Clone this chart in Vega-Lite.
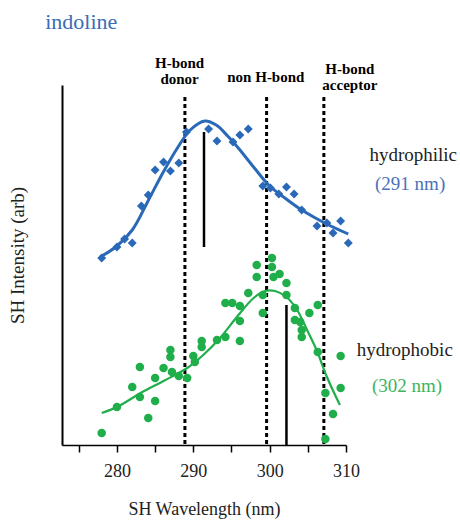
{
  "$schema": "https://vega.github.io/schema/vega-lite/v6.json",
  "width": 284,
  "height": 360,
  "autosize": {"type": "none"},
  "padding": {"left": 62, "top": 85, "right": 114, "bottom": 75},
  "background": "white",
  "config": {"view": {"stroke": null}, "font": "Liberation Serif"},
  "datasets": {
    "blue": [
      {"nm": 278.0, "v": 187}, {"nm": 280.0, "v": 198}, {"nm": 281.0, "v": 206}, {"nm": 282.0, "v": 202},
      {"nm": 283.2, "v": 239}, {"nm": 284.1, "v": 250}, {"nm": 285.0, "v": 275}, {"nm": 286.1, "v": 283},
      {"nm": 287.0, "v": 274}, {"nm": 288.1, "v": 282}, {"nm": 289.1, "v": 313}, {"nm": 292.0, "v": 316},
      {"nm": 293.1, "v": 304}, {"nm": 295.2, "v": 303}, {"nm": 296.1, "v": 310}, {"nm": 297.2, "v": 316},
      {"nm": 299.1, "v": 259}, {"nm": 300.1, "v": 257}, {"nm": 301.2, "v": 251}, {"nm": 302.2, "v": 258},
      {"nm": 303.2, "v": 251}, {"nm": 304.2, "v": 235}, {"nm": 306.2, "v": 219}, {"nm": 307.5, "v": 222},
      {"nm": 308.3, "v": 212}, {"nm": 309.3, "v": 224}, {"nm": 310.3, "v": 202}
    ],
    "blueFit": [
      {"nm": 277.8, "v": 188}, {"nm": 280.0, "v": 199}, {"nm": 282.0, "v": 215}, {"nm": 284.0, "v": 243},
      {"nm": 286.0, "v": 272}, {"nm": 288.0, "v": 298}, {"nm": 289.6, "v": 315}, {"nm": 291.5, "v": 324},
      {"nm": 293.0, "v": 320}, {"nm": 294.5, "v": 309}, {"nm": 296.0, "v": 296}, {"nm": 298.0, "v": 277},
      {"nm": 300.0, "v": 259}, {"nm": 302.0, "v": 247}, {"nm": 304.0, "v": 236}, {"nm": 306.0, "v": 227},
      {"nm": 308.0, "v": 219}, {"nm": 310.3, "v": 211}
    ],
    "green": [
      {"nm": 278.0, "v": 12}, {"nm": 280.0, "v": 38}, {"nm": 282.0, "v": 58}, {"nm": 283.0, "v": 78},
      {"nm": 283.0, "v": 48}, {"nm": 284.1, "v": 27}, {"nm": 285.0, "v": 67}, {"nm": 285.0, "v": 44},
      {"nm": 286.1, "v": 77}, {"nm": 287.0, "v": 95}, {"nm": 287.0, "v": 88}, {"nm": 287.2, "v": 73},
      {"nm": 288.1, "v": 69}, {"nm": 289.2, "v": 67}, {"nm": 290.0, "v": 89}, {"nm": 290.2, "v": 83},
      {"nm": 291.1, "v": 104}, {"nm": 291.1, "v": 98}, {"nm": 293.1, "v": 105}, {"nm": 294.2, "v": 108},
      {"nm": 294.2, "v": 142}, {"nm": 295.1, "v": 142}, {"nm": 296.1, "v": 124}, {"nm": 296.1, "v": 104},
      {"nm": 296.1, "v": 139}, {"nm": 297.2, "v": 152}, {"nm": 298.3, "v": 180}, {"nm": 298.3, "v": 168},
      {"nm": 299.1, "v": 150}, {"nm": 299.1, "v": 132}, {"nm": 300.3, "v": 187}, {"nm": 300.3, "v": 178},
      {"nm": 300.5, "v": 168}, {"nm": 301.3, "v": 171}, {"nm": 302.2, "v": 162}, {"nm": 302.2, "v": 150},
      {"nm": 303.3, "v": 137}, {"nm": 303.3, "v": 125}, {"nm": 304.0, "v": 123}, {"nm": 304.2, "v": 115},
      {"nm": 304.2, "v": 108}, {"nm": 305.2, "v": 132}, {"nm": 306.3, "v": 140}, {"nm": 306.3, "v": 93},
      {"nm": 307.3, "v": 52}, {"nm": 307.3, "v": 6}, {"nm": 308.3, "v": 31}, {"nm": 309.3, "v": 89},
      {"nm": 309.3, "v": 57}
    ],
    "greenFit": [
      {"nm": 278.0, "v": 32}, {"nm": 280.0, "v": 38}, {"nm": 283.1, "v": 52}, {"nm": 286.1, "v": 64},
      {"nm": 289.2, "v": 77}, {"nm": 291.3, "v": 90}, {"nm": 293.5, "v": 107}, {"nm": 295.7, "v": 128},
      {"nm": 297.9, "v": 147}, {"nm": 299.4, "v": 154}, {"nm": 300.7, "v": 154}, {"nm": 302.2, "v": 148},
      {"nm": 303.6, "v": 135}, {"nm": 304.9, "v": 115}, {"nm": 306.2, "v": 94}, {"nm": 307.5, "v": 68},
      {"nm": 309.2, "v": 40}
    ],
    "guides": [
      {"nm": 288.9, "v": 348, "v2": 0},
      {"nm": 299.6, "v": 348, "v2": 0},
      {"nm": 307.1, "v": 348, "v2": 0}
    ],
    "peaks": [
      {"nm": 291.4, "v": 313, "v2": 198},
      {"nm": 302.2, "v": 140, "v2": 0}
    ],
    "labels": [
      {"kind": "title", "label": "indoline", "nm": 270.6, "v": 423},
      {"kind": "band", "label": "H-bond\ndonor", "nm": 288.2, "v": 382},
      {"kind": "band", "label": "non H-bond", "nm": 299.5, "v": 368},
      {"kind": "band", "label": "H-bond\nacceptor", "nm": 310.5, "v": 376},
      {"kind": "name", "label": "hydrophilic", "nm": 318.8, "v": 290},
      {"kind": "name", "label": "hydrophobic", "nm": 317.7, "v": 95},
      {"kind": "blue", "label": "(291 nm)", "nm": 318.4, "v": 261},
      {"kind": "green", "label": "(302 nm)", "nm": 318.0, "v": 59}
    ]
  },
  "layer": [
    {
      "data": {"name": "guides"},
      "mark": {"type": "rule", "color": "black", "strokeWidth": 3, "strokeDash": [4, 3]},
      "encoding": {
        "x": {
          "field": "nm", "type": "quantitative",
          "scale": {"domain": [272.8, 310], "nice": false, "zero": false},
          "axis": {
            "title": "SH Wavelength (nm)",
            "values": [275, 277.5, 280, 282.5, 285, 287.5, 290, 292.5, 295, 297.5, 300, 302.5, 305, 307.5, 310],
            "labelExpr": "datum.value % 10 === 0 ? datum.label : ''",
            "grid": false,
            "domainColor": "black", "domainWidth": 1.5,
            "tickColor": "black", "tickWidth": 1.5, "tickSize": 7,
            "labelFont": "Liberation Serif", "labelFontSize": 18, "labelColor": "#222222",
            "labelPadding": 10, "labelFlush": false,
            "titleFont": "Liberation Serif", "titleFontSize": 18, "titleFontWeight": "normal",
            "titleColor": "#222222", "titlePadding": 20
          }
        },
        "y": {
          "field": "v", "type": "quantitative",
          "scale": {"domain": [0, 360], "nice": false, "zero": false},
          "axis": {
            "title": "SH Intensity (arb)",
            "ticks": false, "labels": false, "grid": false,
            "domainColor": "black", "domainWidth": 2,
            "titleFont": "Liberation Serif", "titleFontSize": 19, "titleFontWeight": "normal",
            "titleColor": "#222222", "titlePadding": 35, "titleY": 170
          }
        },
        "y2": {"field": "v2"}
      }
    },
    {
      "data": {"name": "peaks"},
      "mark": {"type": "rule", "color": "black", "strokeWidth": 2.5},
      "encoding": {
        "x": {"field": "nm", "type": "quantitative"},
        "y": {"field": "v", "type": "quantitative"},
        "y2": {"field": "v2"}
      }
    },
    {
      "data": {"name": "blueFit"},
      "mark": {"type": "line", "color": "#2a69b8", "strokeWidth": 3, "interpolate": "catmull-rom"},
      "encoding": {
        "x": {"field": "nm", "type": "quantitative"},
        "y": {"field": "v", "type": "quantitative"}
      }
    },
    {
      "data": {"name": "blue"},
      "mark": {"type": "point", "shape": "diamond", "filled": true, "size": 80, "color": "#2a69b8", "opacity": 1},
      "encoding": {
        "x": {"field": "nm", "type": "quantitative"},
        "y": {"field": "v", "type": "quantitative"}
      }
    },
    {
      "data": {"name": "greenFit"},
      "mark": {"type": "line", "color": "#1fae4a", "strokeWidth": 2.2, "interpolate": "catmull-rom"},
      "encoding": {
        "x": {"field": "nm", "type": "quantitative"},
        "y": {"field": "v", "type": "quantitative"}
      }
    },
    {
      "data": {"name": "green"},
      "mark": {"type": "circle", "size": 72, "color": "#1fae4a", "opacity": 1},
      "encoding": {
        "x": {"field": "nm", "type": "quantitative"},
        "y": {"field": "v", "type": "quantitative"}
      }
    },
    {
      "data": {"name": "labels"},
      "transform": [{"filter": "datum.kind === 'title'"}],
      "mark": {"type": "text", "align": "left", "baseline": "middle", "font": "Liberation Serif", "fontSize": 22, "color": "#3a6db4"},
      "encoding": {
        "x": {"field": "nm", "type": "quantitative"},
        "y": {"field": "v", "type": "quantitative"},
        "text": {"field": "label"}
      }
    },
    {
      "data": {"name": "labels"},
      "transform": [{"filter": "datum.kind === 'band'"}],
      "mark": {"type": "text", "align": "center", "baseline": "middle", "font": "Liberation Serif", "fontSize": 15, "fontWeight": "bold", "color": "black", "lineBreak": "\n", "lineHeight": 16},
      "encoding": {
        "x": {"field": "nm", "type": "quantitative"},
        "y": {"field": "v", "type": "quantitative"},
        "text": {"field": "label"}
      }
    },
    {
      "data": {"name": "labels"},
      "transform": [{"filter": "datum.kind === 'name'"}],
      "mark": {"type": "text", "align": "center", "baseline": "middle", "font": "Liberation Serif", "fontSize": 19, "color": "#222222"},
      "encoding": {
        "x": {"field": "nm", "type": "quantitative"},
        "y": {"field": "v", "type": "quantitative"},
        "text": {"field": "label"}
      }
    },
    {
      "data": {"name": "labels"},
      "transform": [{"filter": "datum.kind === 'blue'"}],
      "mark": {"type": "text", "align": "center", "baseline": "middle", "font": "Liberation Serif", "fontSize": 19, "color": "#4a72b8"},
      "encoding": {
        "x": {"field": "nm", "type": "quantitative"},
        "y": {"field": "v", "type": "quantitative"},
        "text": {"field": "label"}
      }
    },
    {
      "data": {"name": "labels"},
      "transform": [{"filter": "datum.kind === 'green'"}],
      "mark": {"type": "text", "align": "center", "baseline": "middle", "font": "Liberation Serif", "fontSize": 19, "color": "#3db45c"},
      "encoding": {
        "x": {"field": "nm", "type": "quantitative"},
        "y": {"field": "v", "type": "quantitative"},
        "text": {"field": "label"}
      }
    }
  ]
}
